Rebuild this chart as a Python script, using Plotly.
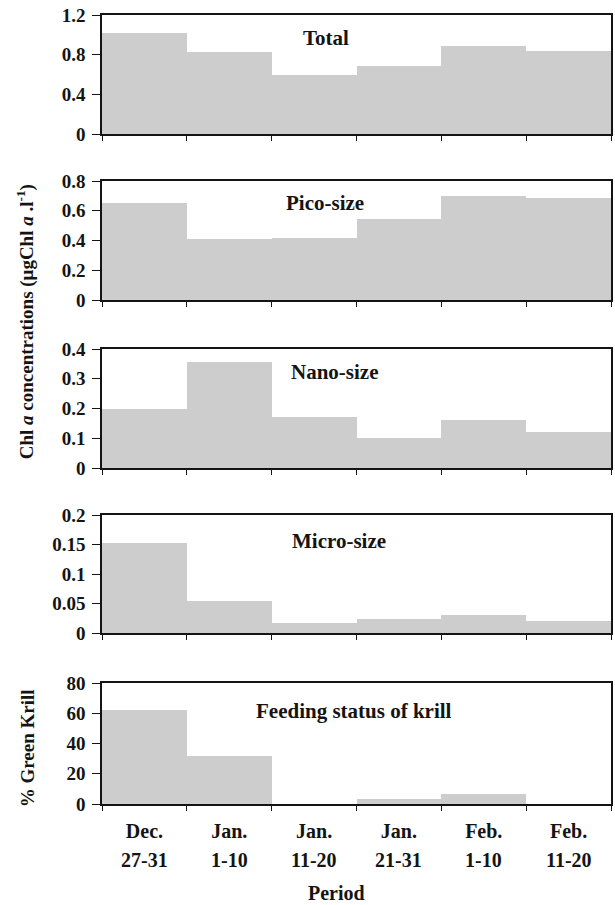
import plotly.graph_objects as go

# ---------------- data ----------------
months = ["Dec.", "Jan.", "Jan.", "Jan.", "Feb.", "Feb."]
days = ["27-31", "1-10", "11-20", "21-31", "1-10", "11-20"]
categories = [f"{m} {d}" for m, d in zip(months, days)]

total = [1.02, 0.83, 0.60, 0.69, 0.89, 0.84]
pico = [0.65, 0.41, 0.42, 0.545, 0.70, 0.685]
nano = [0.20, 0.355, 0.17, 0.10, 0.16, 0.122]
micro = [0.153, 0.055, 0.017, 0.023, 0.031, 0.021]
green_krill = [62, 32, 0, 3.5, 6.5, 0]

panel_names = ["Total", "Pico-size", "Nano-size", "Micro-size", "Feeding status of krill"]
series = [total, pico, nano, micro, green_krill]
y_ticks = [
    [0, 0.4, 0.8, 1.2],
    [0, 0.2, 0.4, 0.6, 0.8],
    [0, 0.1, 0.2, 0.3, 0.4],
    [0, 0.05, 0.1, 0.15, 0.2],
    [0, 20, 40, 60, 80],
]
y_ticktext = [
    ["0", "0.4", "0.8", "1.2"],
    ["0", "0.2", "0.4", "0.6", "0.8"],
    ["0", "0.1", "0.2", "0.3", "0.4"],
    ["0", "0.05", "0.1", "0.15", "0.2"],
    ["0", "20", "40", "60", "80"],
]

# ---------------- layout geometry (pixels) ----------------
W, H = 615, 905
m_l, m_r, m_t, m_b = 102, 2, 15, 101
plot_h = H - m_t - m_b
plot_w = W - m_l - m_r
panel_top = [15, 181, 349, 515, 683]
panel_bot = [134, 300, 468, 633, 804]
label_x_px = [327, 326, 336, 340, 355]
label_y_px = [38, 203, 372, 541, 711]

def py(px):
    return (H - m_b - px) / plot_h

def pxx(px):
    return (px - m_l) / plot_w

FONT = "Liberation Serif"
INK = "#141414"
BAR = "#cdcdcd"

fig = go.Figure()
annotations = []
layout = dict(
    width=W, height=H,
    margin=dict(l=m_l, r=m_r, t=m_t, b=m_b),
    paper_bgcolor="white", plot_bgcolor="white",
    showlegend=False, bargap=0,
    font=dict(family=FONT, color=INK, size=18),
)

for i, (name, vals) in enumerate(zip(panel_names, series)):
    k = i + 1
    xa = "x" if k == 1 else f"x{k}"
    ya = "y" if k == 1 else f"y{k}"
    fig.add_trace(go.Bar(
        x=categories, y=vals, xaxis=xa, yaxis=ya,
        marker=dict(color=BAR, line=dict(width=0)),
        hoverinfo="x+y",
    ))
    last = (k == 5)
    xdict = dict(
        domain=[0, 1], anchor=ya, type="category",
        categoryorder="array", categoryarray=categories,
        showticklabels=last,
        tickson="boundaries", ticks="outside", ticklen=5, tickwidth=1.2,
        tickcolor=INK,
        showline=True, linecolor=INK, linewidth=1.6, mirror=True,
        showgrid=False, zeroline=False,
        tickfont=dict(family=FONT, size=20, color=INK),
        range=[-0.5, 5.5],
    )
    if last:
        xdict.update(tickmode="array", tickvals=categories,
                     ticktext=[f"<b>{m}</b>" for m in months],
                     ticklabelstandoff=8)
    layout["xaxis" if k == 1 else f"xaxis{k}"] = xdict
    layout["yaxis" if k == 1 else f"yaxis{k}"] = dict(
        domain=[py(panel_bot[i]), py(panel_top[i])], anchor=xa,
        range=[0, y_ticks[i][-1]],
        tickmode="array", tickvals=y_ticks[i],
        ticktext=[f"<b>{t}</b>" for t in y_ticktext[i]],
        ticks="outside", ticklen=8, tickwidth=1.2, tickcolor=INK,
        showline=True, linecolor=INK, linewidth=1.6, mirror=True,
        showgrid=False, zeroline=False,
        tickfont=dict(family=FONT, size=19, color=INK),
        ticklabelstandoff=3,
    )
    annotations.append(dict(
        text=f"<b>{name}</b>", xref="paper", yref="paper",
        x=pxx(label_x_px[i]), y=py(label_y_px[i]),
        xanchor="center", yanchor="middle", showarrow=False,
        font=dict(family=FONT, size=21, color=INK),
    ))

# second line of the period labels
for c, d in zip(categories, days):
    annotations.append(dict(
        text=f"<b>{d}</b>", xref="x5", yref="y5 domain", x=c, y=0,
        yshift=-56, xanchor="center", yanchor="middle", showarrow=False,
        font=dict(family=FONT, size=20, color=INK),
    ))

# axis titles
annotations.append(dict(
    text="<b>Period</b>", xref="paper", yref="paper",
    x=pxx(337), y=py(893), xanchor="center", yanchor="middle",
    showarrow=False, font=dict(family=FONT, size=20, color=INK),
))
annotations.append(dict(
    text="<b>Chl <i>a</i> concentrations (μgChl <i>a</i> .l<sup>-1</sup>)</b>",
    xref="paper", yref="paper", x=pxx(25), y=py(322),
    xanchor="center", yanchor="middle", textangle=-90, showarrow=False,
    font=dict(family=FONT, size=19, color=INK),
))
annotations.append(dict(
    text="<b>% Green Krill</b>", xref="paper", yref="paper",
    x=pxx(27), y=py(748), xanchor="center", yanchor="middle",
    textangle=-90, showarrow=False,
    font=dict(family=FONT, size=19, color=INK),
))

layout["annotations"] = annotations
fig.update_layout(**layout)
fig.write_html("out.html")
